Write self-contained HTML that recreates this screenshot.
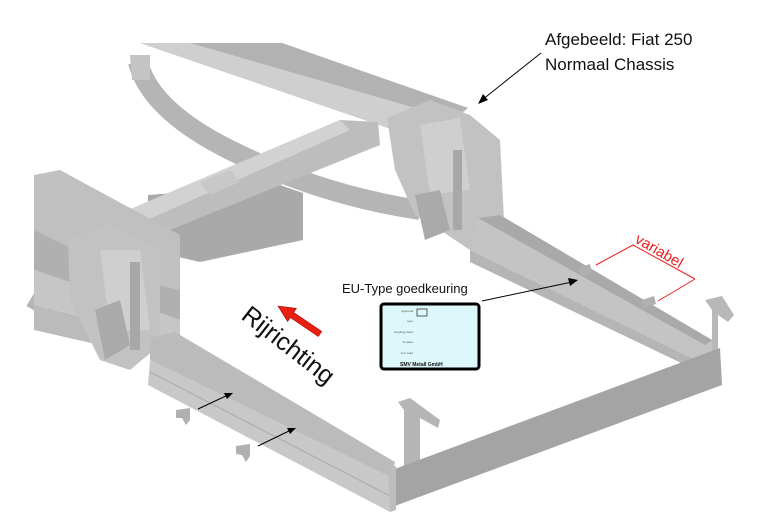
<!DOCTYPE html>
<html><head><meta charset="utf-8"><style>
html,body{margin:0;padding:0;background:#fff}
svg{display:block}
text{font-family:"Liberation Sans",sans-serif}
</style></head><body>
<svg width="769" height="531" viewBox="0 0 769 531" xmlns="http://www.w3.org/2000/svg">
<rect width="769" height="531" fill="#fff"/>
<!-- upper main beam -->
<polygon points="140,43 282,43 468,108 445,130 388,128" fill="#c9c9c9"/>
<polygon points="190,43 282,43 468,108 450,118" fill="#b2b2b2"/>
<polygon points="140,43 190,43 450,118 445,130 388,128" fill="#cfcfcf"/>
<!-- leaf spring -->
<path d="M138,62 Q150,110 230,150 Q320,195 420,210" fill="none" stroke="#b5b5b5" stroke-width="20"/>
<path d="M130,55 L150,55 L150,80 L132,80 Z" fill="#c4c4c4"/>
<path d="M30,300 Q80,330 150,340" fill="none" stroke="#b5b5b5" stroke-width="14"/>
<!-- dark block under crossmember -->
<polygon points="148,195 280,185 303,193 303,240 200,262 148,250" fill="#a9a9a9"/>
<!-- cross member tube -->
<polygon points="100,222 340,120 378,122 380,145 140,242 104,244" fill="#bdbdbd"/>
<polygon points="100,222 340,120 350,130 120,232" fill="#d2d2d2"/>
<polygon points="200,182 230,170 240,182 210,195" fill="#c8c8c8"/>
<!-- left frame beam -->
<polygon points="34,175 60,170 180,235 180,290 140,280 34,230" fill="#c0c0c0"/>
<polygon points="34,230 140,280 180,290 180,320 34,270" fill="#b0b0b0"/>
<polygon points="34,270 180,320 180,345 34,305" fill="#c6c6c6"/>
<polygon points="34,305 100,325 100,345 34,330" fill="#bbbbbb"/>
<!-- left bracket -->
<polygon points="68,240 110,225 160,250 160,345 130,370 100,360 70,300" fill="#c2c2c2"/>
<polygon points="100,250 140,250 150,330 110,330" fill="#cfcfcf"/>
<polygon points="130,262 140,262 140,350 130,350" fill="#a8a8a8"/>
<polygon points="95,310 120,300 130,345 105,360" fill="#aaaaaa"/>
<!-- right bracket -->
<polygon points="387,118 430,100 470,115 500,140 505,240 470,250 440,230 415,215 395,170" fill="#c2c2c2"/>
<polygon points="420,125 460,118 470,190 430,195" fill="#cfcfcf"/>
<polygon points="453,150 462,150 462,230 453,230" fill="#a8a8a8"/>
<polygon points="415,195 440,190 450,230 425,240" fill="#aaaaaa"/>
<!-- right rail -->
<polygon points="478,218 500,215 712,340 712,355 700,362 470,250" fill="#c4c4c4"/>
<polygon points="478,218 500,215 712,340 705,345" fill="#a9a9a9"/>
<polygon points="470,250 700,362 700,372 470,262" fill="#b5b5b5"/>
<!-- right upright -->
<polygon points="705,300 722,296 734,315 728,322 718,315 718,380 712,380 712,310" fill="#b8b8b8"/>
<!-- left rail -->
<polygon points="150,338 175,332 395,462 392,478 150,360" fill="#bbbbbb"/>
<polygon points="150,360 392,478 390,512 148,385" fill="#c8c8c8"/>
<line x1="150" y1="372" x2="390" y2="496" stroke="#aaa" stroke-width="1"/>
<!-- front-left upright -->
<polygon points="398,402 410,398 440,420 438,428 420,418 420,465 404,470 404,410" fill="#b5b5b5"/>
<!-- rear cross member -->
<polygon points="392,470 720,348 722,385 392,507" fill="#a4a4a4"/>
<polygon points="388,468 396,466 396,510 390,512" fill="#bdbdbd"/>
<!-- small feet -->
<polygon points="176,410 190,408 190,420 186,425 182,418 176,418" fill="#b0b0b0"/>
<polygon points="236,446 250,444 250,456 246,462 242,455 236,454" fill="#b0b0b0"/>
<polygon points="578,268 590,264 592,272 580,276" fill="#b0b0b0"/>
<polygon points="642,300 654,296 656,304 644,308" fill="#b0b0b0"/>
<!-- labels -->
<text x="545" y="45" font-size="17" fill="#111">Afgebeeld: Fiat 250</text>
<text x="545" y="70" font-size="17" fill="#111">Normaal Chassis</text>
<line x1="541" y1="53" x2="482" y2="100" stroke="#000" stroke-width="1"/>
<polygon points="478,104 483,94 488,100" fill="#000"/>
<!-- variabel -->
<g stroke="#ee1c1c" stroke-width="1" fill="none">
<line x1="633" y1="245" x2="695" y2="279"/>
<line x1="596" y1="265" x2="633" y2="245"/>
<line x1="695" y1="279" x2="658" y2="301"/>
</g>
<text x="0" y="0" font-size="15" fill="#ee1c1c" transform="translate(634,242) rotate(30)">variabel</text>
<!-- EU type -->
<text x="342" y="293" font-size="13" fill="#111">EU-Type goedkeuring</text>
<line x1="482" y1="301" x2="572" y2="282" stroke="#000" stroke-width="1"/>
<polygon points="578,280 568,278 570,286" fill="#000"/>
<rect x="381" y="304" width="98" height="65" rx="3" fill="#dcf8fa" stroke="#000" stroke-width="3"/>
<rect x="417" y="309" width="10" height="7" fill="none" stroke="#333" stroke-width="0.8"/>
<g font-size="3" fill="#555" text-anchor="end">
<text x="413" y="312">approval</text><text x="413" y="322">type</text><text x="413" y="333">coupling class</text><text x="413" y="343">D-value</text><text x="413" y="354">vert. load</text></g>
<text x="400" y="366" font-size="5" font-weight="bold" fill="#111">SMV Metall GmbH</text>
<!-- Rijrichting -->
<text x="0" y="0" font-size="25" fill="#111" transform="translate(240,318) rotate(38)">Rijrichting</text>
<polygon points="278,306 296.4,308.4 293.7,312.5 321.7,331.5 318.3,336.5 290.3,317.5 287.6,321.6" fill="#e8200f" stroke="#a00" stroke-width="0.6"/>
<!-- small arrows -->
<line x1="198" y1="409" x2="228" y2="395" stroke="#000" stroke-width="1"/>
<polygon points="233,393 224,393 227,399" fill="#000"/>
<line x1="258" y1="446" x2="291" y2="430" stroke="#000" stroke-width="1"/>
<polygon points="296,428 287,428 290,434" fill="#000"/>
</svg>
</body></html>
